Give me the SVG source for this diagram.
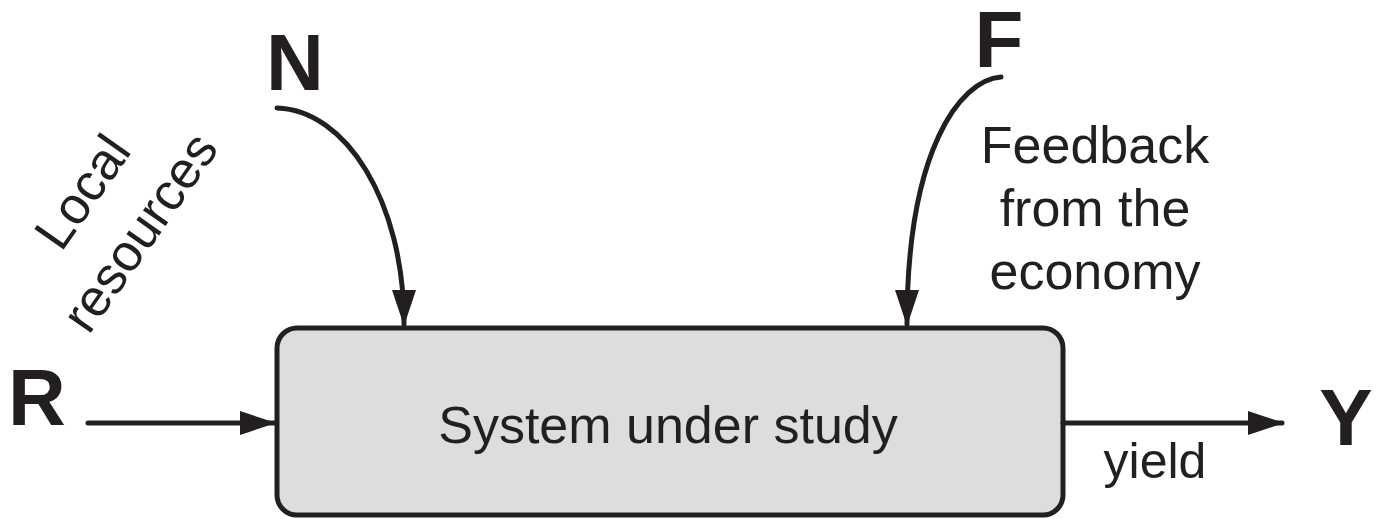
<svg xmlns="http://www.w3.org/2000/svg" width="1378" height="519" viewBox="0 0 1378 519">
<style>
.big{font-family:"Liberation Sans",Arial,sans-serif;font-weight:bold;font-size:80px;fill:#231f20}
.lbl{font-family:"Liberation Sans",Arial,sans-serif;font-size:52px;fill:#231f20}
.ln{fill:none;stroke:#231f20;stroke-width:5;stroke-linecap:round}
</style>
<defs>
<marker id="ah" markerUnits="userSpaceOnUse" viewBox="0 0 36 24" refX="34" refY="12" markerWidth="36" markerHeight="24" orient="auto">
<path d="M0,0 L36,12 L0,24 z" fill="#231f20"/>
</marker>
</defs>
<rect width="1378" height="519" fill="#fff"/>
<g id="system">
<rect x="277" y="328" width="786" height="187" rx="20" ry="20" fill="#dcdddf" stroke="#231f20" stroke-width="5"/>
<text class="lbl" x="668" y="443" text-anchor="middle">System under study</text>
</g>
<g id="N"><text class="big" x="295" y="90" text-anchor="middle">N</text></g>
<g id="F"><text class="big" x="999" y="67" text-anchor="middle">F</text></g>
<g id="R"><text class="big" x="37" y="425" text-anchor="middle">R</text></g>
<g id="Y"><text class="big" x="1346" y="445" text-anchor="middle">Y</text></g>
<g id="connectors">
<path class="ln" d="M277,108 C345,110 404,200 404,324" marker-end="url(#ah)"/>
<path class="ln" d="M1001,77 C960,80 907,150 907,324" marker-end="url(#ah)"/>
<path class="ln" d="M88,423 L274,423" marker-end="url(#ah)"/>
<path class="ln" d="M1063,423 L1282,423" marker-end="url(#ah)"/>
</g>
<g id="labels">
<text class="lbl" text-anchor="middle" transform="translate(97,202) rotate(-55)"><tspan x="0" y="0">Local</tspan><tspan x="0" y="70">resources</tspan></text>
<text class="lbl" text-anchor="middle"><tspan x="1095" y="163">Feedback</tspan><tspan x="1095" y="226">from the</tspan><tspan x="1095" y="289">economy</tspan></text>
<text class="lbl" x="1155" y="478" text-anchor="middle" style="font-size:50px">yield</text>
</g>
</svg>
